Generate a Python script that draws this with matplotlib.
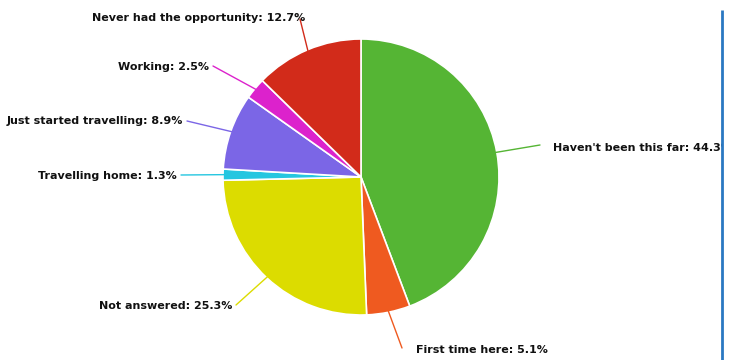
import numpy as np
import matplotlib
matplotlib.use("Agg")
import matplotlib.pyplot as plt
from matplotlib.patches import Rectangle

labels = ["Haven't been this far", "First time here", "Not answered",
          "Travelling home", "Just started travelling", "Working",
          "Never had the opportunity"]
shares = [44.3, 5.1, 25.3, 1.3, 8.9, 2.5, 12.7]
colors = ["#55b534", "#ef5a20", "#dcdc00", "#25c6e0", "#7b66e6", "#dc22cc", "#d22b1a"]

W, H = 733, 360
fig = plt.figure(figsize=(W / 100, H / 100), dpi=100)
ax = fig.add_axes([0, 0, 1, 1])

cx, cy, r = 361, H - 177, 138
wedges, _ = ax.pie(shares, colors=colors, startangle=90, counterclock=False,
                   center=(cx, cy), radius=r, frame=True,
                   wedgeprops=dict(edgecolor="white", linewidth=1.2))
ax.set_xlim(0, W)
ax.set_ylim(0, H)
ax.set_aspect("equal")
ax.axis("off")

# label anchors (pixel coords from top-left), alignment, leader end
anchors = [
    (553, 148, "left", (540, 145)),
    (416, 350, "left", (402, 348)),
    (232, 306, "right", (236, 305)),
    (177, 176, "right", (181, 175)),
    (183, 121, "right", (187, 121)),
    (209, 67, "right", (213, 66)),
    (305, 18, "right", (300, 19)),
]

font = dict(family="DejaVu Sans", fontweight="bold", fontsize=8.0, color="#111111")
for w, lab, val, col, (tx, ty, ha, (lx, ly)) in zip(wedges, labels, shares, colors, anchors):
    mid = np.deg2rad((w.theta1 + w.theta2) / 2)
    px = cx + r * 0.99 * np.cos(mid)
    py = cy + r * 0.99 * np.sin(mid)
    ax.plot([px, lx], [py, H - ly], color=col, lw=1.0, zorder=3, solid_capstyle="round")
    ax.text(tx, H - ty, f"{lab}: {val}%", ha=ha, va="center", zorder=4, **font)

# panel border on the right; the panel hides whatever runs past it
ax.add_patch(Rectangle((722, 0), W - 722, H, facecolor="white", edgecolor="none", zorder=10))
ax.plot([722, 722], [0, H - 10], color="#2a78c2", lw=2.0, zorder=11, solid_capstyle="butt")

fig.savefig("out.png", dpi=100, facecolor="white")
